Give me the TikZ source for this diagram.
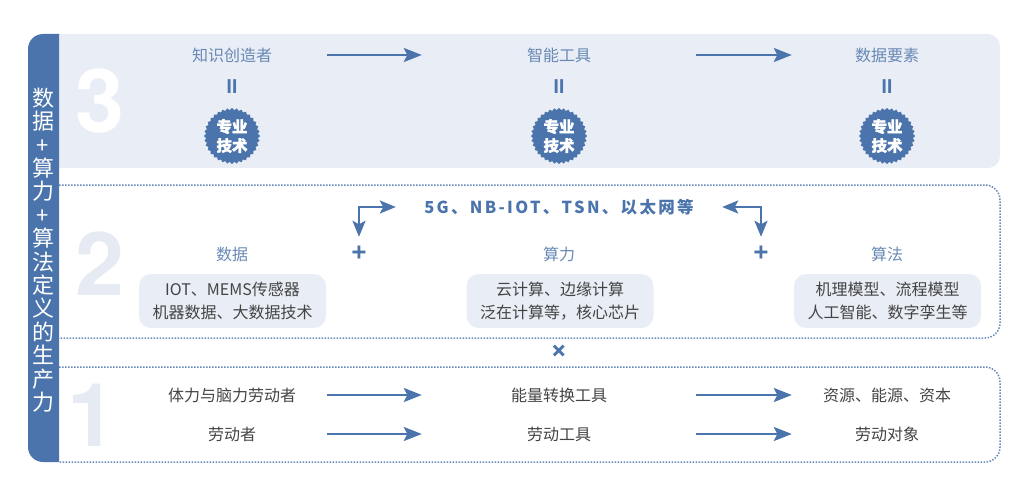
\documentclass[tikz,border=0pt]{standalone}
\usepackage{fontspec}
\usepackage{xcolor}
\usepackage{tikz}
\usetikzlibrary{positioning,arrows.meta,shapes.geometric}
\setmainfont{Noto Sans CJK SC}
\newfontfamily\numfont{TeX Gyre Heros}
\newfontfamily\netfont[LetterSpace=14]{Noto Sans CJK SC}
\newfontfamily\sealfont[FakeBold=1.5]{Noto Sans CJK SC}
\definecolor{steel}{RGB}{74,116,171}
\definecolor{pale}{RGB}{233,237,245}
\definecolor{numgray}{RGB}{230,235,243}
\definecolor{headblue}{RGB}{104,137,181}
\definecolor{ink}{RGB}{68,68,68}

\tikzset{
  flow/.style={draw=steel,line width=2.4pt,-{Stealth[length=18pt,width=14pt,inset=3.5pt]}},
  elbow/.style={draw=steel,line width=2.4pt,{Stealth[length=16pt,width=13pt,inset=3.5pt]}-{Stealth[length=16pt,width=13pt,inset=3.5pt]}},
  dotedge/.style={draw=steel!85,line width=1.5pt,dash pattern=on 1.5pt off 1.5pt,rounded corners=15pt},
  head/.style={text=headblue,font=\fontsize{16}{20}\selectfont,inner sep=0pt},
  item/.style={text=ink,font=\fontsize{16}{20}\selectfont,inner sep=0pt},
  sidecol/.style={minimum width=190pt},
  midcol/.style={minimum width=274pt},
  bigno/.style={font=\numfont\bfseries\fontsize{88}{88}\selectfont,inner sep=0pt},
  infobox/.style={fill=pale,rounded corners=12pt,minimum width=187pt,minimum height=54pt,inner sep=0pt,
    align=center,text=ink,font=\fontsize{16}{23}\selectfont},
  equal/.style={text=steel,font=\numfont\bfseries\fontsize{19}{19}\selectfont,inner sep=0pt},
  seal/.style={star,star points=36,star point ratio=1.08,minimum size=56pt,inner sep=0pt,fill=steel,
    text=white,align=center,font=\sealfont\bfseries\fontsize{15.5}{19}\selectfont},
  plusmark/.style={text=steel,font=\numfont\bfseries\fontsize{28}{28}\selectfont,inner sep=0pt,minimum height=32pt}
}

\begin{document}
\begin{tikzpicture}[x=1pt,y=-1pt]
  \useasboundingbox (0,0) rectangle (1024,487);
  % panels
  \fill[pale,rounded corners=12pt] (40,34) rectangle (1000,168);
  \draw[dotedge] (59,185) -| (1000,338) -- (59,338);
  \draw[dotedge] (59,367) -| (1000,462) -- (59,462);
  \fill[steel] (59,34) [rounded corners=15pt] -- (28,34) -- (28,462) [sharp corners] -- (59,462) -- cycle;
  \node[text=white,align=center,inner sep=0pt,font=\fontsize{22}{23.4}\selectfont] (sidebar) at (43,250)
    {数\\据\\+\\算\\力\\+\\算\\法\\定\\义\\的\\生\\产\\力};

  % big numbers
  \node[bigno,text=white] (three) at (100,101) {3};
  \node[bigno,text=numgray] (two) at (100,264) {2};
  \node[bigno,text=numgray] (one) at (92,415) {1};

  % top row
  \node[head,sidecol] (creator) at (232,55) {知识创造者};
  \node[head,midcol] (tool) at (559,55) {智能工具};
  \node[head,sidecol] (factor) at (887,55) {数据要素};
  \node[equal] (eqa) at (232,87) {II};
  \node[equal] (eqb) at (559,87) {II};
  \node[equal] (eqc) at (887,87) {II};
  \node[seal] (sealA) at (232,136) {专业\\技术};
  \node[seal] (sealB) at (559,136) {专业\\技术};
  \node[seal] (sealC) at (887,136) {专业\\技术};

  % middle row
  \node[text=steel,inner sep=0pt,minimum width=326pt,font=\netfont\bfseries\fontsize{16.5}{18}\selectfont] (net) at (559,207)
    {5G、NB-IOT、TSN、以太网等};
  \node[plusmark] (plusL) at (359,253) {+};
  \node[plusmark] (plusR) at (761,253) {+};
  \node[head] (data) at (232,254) {数据};
  \node[head] (power) at (559,254) {算力};
  \node[head] (algo) at (887,254) {算法};
  \node[infobox] (dataBox) at (232.5,301) {IOT、MEMS传感器\\机器数据、大数据技术};
  \node[infobox] (powerBox) at (560,301) {云计算、边缘计算\\泛在计算等，核心芯片};
  \node[infobox] (algoBox) at (887.5,301) {机理模型、流程模型\\人工智能、数字孪生等};
  \node[text=steel,font=\numfont\bfseries\fontsize{30}{30}\selectfont,inner sep=0pt] (times) at (559,352) {×};

  % bottom rows
  \node[item,sidecol] (worker) at (232,395) {体力与脑力劳动者};
  \node[item,midcol] (convert) at (559,395) {能量转换工具};
  \node[item,sidecol] (resource) at (887,395) {资源、能源、资本};
  \node[item,sidecol] (labor) at (232,434) {劳动者};
  \node[item,midcol] (means) at (559,434) {劳动工具};
  \node[item,sidecol] (object) at (887,434) {劳动对象};

  \draw[flow] (creator) -- (tool);
  \draw[flow] (tool) -- (factor);
  \draw[flow] (worker) -- (convert);
  \draw[flow] (convert) -- (resource);
  \draw[flow] (labor) -- (means);
  \draw[flow] (means) -- (object);
  \draw[elbow] (plusL.north) |- (net.west);
  \draw[elbow] (plusR.north) |- (net.east);
\end{tikzpicture}
\end{document}
